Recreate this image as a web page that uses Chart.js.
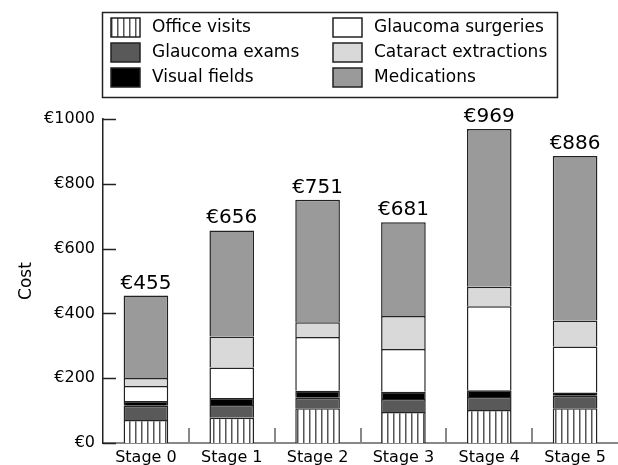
<!DOCTYPE html>
<html>
<head>
<meta charset="utf-8">
<script src="https://cdn.jsdelivr.net/npm/chart.js@4/dist/chart.umd.min.js"></script>
<style>
  html, body { margin: 0; padding: 0; background: #fff; }
</style>
</head>
<body>
<canvas id="chart" width="618" height="465"></canvas>
<script>
const FONT = '"DejaVu Sans", sans-serif';

// values (euros)
const stages = ["Stage 0", "Stage 1", "Stage 2", "Stage 3", "Stage 4", "Stage 5"];
const officeVisits = [71, 78, 107, 96, 102, 107];
const glaucomaExams = [44, 39, 33, 40, 40, 39];
const visualFields = [15, 22, 21, 22, 21, 10];
const glaucomaSurgeries = [46, 94, 166, 132, 259, 142];
const cataractExtractions = [25, 96, 46, 102, 60, 80];
const medications = [254, 327, 378, 289, 487, 508];
const yTicks = [0, 200, 400, 600, 800, 1000];

function stripePattern() {
    var c = document.createElement("canvas");
    c.width = 6;
    c.height = 6;
    var g = c.getContext("2d");
    g.fillStyle = "#fff";
    g.fillRect(0, 0, 6, 6);
    g.fillStyle = "#555";
    g.fillRect(3, 0, 1.5, 6);
    return g.createPattern(c, "repeat");
}

function drawLegend(chart) {
    var ctx = chart.ctx;
    ctx.save();
    ctx.strokeStyle = "#222";
    ctx.lineWidth = 1.5;
    ctx.strokeRect(102.5, 12.5, 455, 85);
    var cols = [111, 333];
    ctx.font = "17px " + FONT;
    ctx.textBaseline = "middle";
    chart.data.datasets.forEach(function (ds, i) {
        var x = cols[Math.floor(i / 3)];
        var y = 18 + (i % 3) * 25;
        ctx.fillStyle = ds.backgroundColor;
        ctx.fillRect(x, y, 29, 19);
        ctx.strokeRect(x, y, 29, 19);
        ctx.fillStyle = "#000";
        ctx.fillText(ds.label, x + 41, y + 10);
    });
    ctx.restore();
}

const overlay = {
    id: "overlay",
    afterDraw(chart) {
        var ctx = chart.ctx;
        var xs = chart.scales.x;
        var ys = chart.scales.y;
        var area = chart.chartArea;
        ctx.save();

        // inward ticks on y axis
        ctx.strokeStyle = "#222";
        ctx.lineWidth = 1.5;
        yTicks.forEach(function (v) {
            var y = Math.round(ys.getPixelForValue(v)) + 0.5;
            ctx.beginPath();
            ctx.moveTo(area.left, y);
            ctx.lineTo(area.left + 13, y);
            ctx.stroke();
        });

        // small grey ticks between categories
        ctx.strokeStyle = "#888";
        ctx.lineWidth = 2;
        for (var i = 0; i < stages.length - 1; i++) {
            var x = Math.round((xs.getPixelForValue(i) + xs.getPixelForValue(i + 1)) / 2);
            ctx.beginPath();
            ctx.moveTo(x, area.bottom);
            ctx.lineTo(x, area.bottom - 15);
            ctx.stroke();
        }

        // totals above bars
        ctx.fillStyle = "#000";
        ctx.font = "20px " + FONT;
        ctx.textAlign = "center";
        ctx.textBaseline = "alphabetic";
        stages.forEach(function (s, i) {
            var total = 0;
            chart.data.datasets.forEach(function (ds) { total += ds.data[i]; });
            ctx.fillText("€" + total, xs.getPixelForValue(i), ys.getPixelForValue(total) - 7);
        });
        ctx.restore();

        drawLegend(chart);
    }
};

function makeDataset(label, data, color) {
    return {
        label: label,
        data: data,
        backgroundColor: color,
        borderColor: "#222",
        borderWidth: 1.5,
        categoryPercentage: 1,
        barPercentage: 0.52
    };
}

window.onload = function () {
    var ctx = document.getElementById("chart").getContext("2d");
    new Chart(ctx, {
        type: "bar",
        data: {
            labels: stages,
            datasets: [
                makeDataset("Office visits", officeVisits, stripePattern()),
                makeDataset("Glaucoma exams", glaucomaExams, "#595959"),
                makeDataset("Visual fields", visualFields, "#000000"),
                makeDataset("Glaucoma surgeries", glaucomaSurgeries, "#ffffff"),
                makeDataset("Cataract extractions", cataractExtractions, "#d9d9d9"),
                makeDataset("Medications", medications, "#9a9a9a")
            ]
        },
        options: {
            responsive: false,
            animation: false,
            devicePixelRatio: 1,
            layout: { padding: { top: 119, right: -6, left: 0, bottom: 0 } },
            plugins: {
                legend: { display: false },
                tooltip: { enabled: false }
            },
            scales: {
                x: {
                    stacked: true,
                    offset: true,
                    grid: { display: false, drawTicks: false },
                    border: { display: true, color: "#888", width: 2 },
                    ticks: { color: "#000", font: { family: FONT, size: 16 }, padding: 5, maxRotation: 0, autoSkip: false },
                    afterFit: function (s) { s.height = 22; }
                },
                y: {
                    stacked: true,
                    min: 0,
                    max: 1000,
                    grid: { display: false, drawTicks: false },
                    border: { display: true, color: "#222", width: 1.5 },
                    ticks: {
                        stepSize: 200,
                        color: "#000",
                        padding: 8,
                        font: { family: FONT, size: 16 },
                        callback: function (v) { return "€" + v; }
                    },
                    title: {
                        display: true,
                        text: "Cost",
                        color: "#000",
                        font: { family: FONT, size: 17 },
                        padding: { top: 16, bottom: 0 }
                    },
                    afterFit: function (s) { s.width = 103; }
                }
            }
        },
        plugins: [overlay]
    });
};
</script>
</body>
</html>
